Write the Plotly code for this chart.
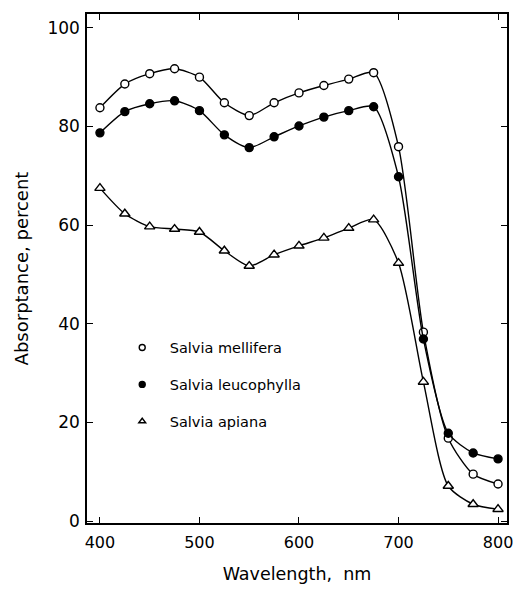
import plotly.graph_objects as go

wavelength = [400, 425, 450, 475, 500, 525, 550, 575, 600, 625, 650, 675, 700, 725, 750, 775, 800]
mellifera = [83.8, 88.6, 90.7, 91.7, 90.0, 84.8, 82.2, 84.8, 86.8, 88.3, 89.6, 90.9, 75.9, 38.3, 16.8, 9.5, 7.5]
leucophylla = [78.7, 83.0, 84.6, 85.2, 83.2, 78.3, 75.7, 77.9, 80.1, 81.9, 83.2, 84.0, 69.8, 36.9, 17.8, 13.8, 12.6]
apiana = [67.5, 62.3, 59.7, 59.2, 58.6, 54.8, 51.7, 54.0, 55.8, 57.4, 59.4, 61.1, 52.3, 28.2, 7.1, 3.4, 2.4]

series_names = ["Salvia mellifera", "Salvia leucophylla", "Salvia apiana"]
series_values = [mellifera, leucophylla, apiana]
symbols = ["circle", "circle", "triangle-up"]
fills = ["white", "black", "white"]
marker_sizes = [8, 8, 9]

x_ticks = [400, 500, 600, 700, 800]
y_ticks = [0, 20, 40, 60, 80, 100]

FONT = "'DejaVu Sans', sans-serif"

fig = go.Figure()
for i, (name, vals, sym, fc, ms) in enumerate(zip(series_names, series_values, symbols, fills, marker_sizes)):
    fig.add_trace(go.Scatter(
        x=wavelength, y=vals, mode="lines",
        line=dict(color="black", width=1.4, shape="spline", smoothing=0.7),
        showlegend=False, hoverinfo="skip"))
    fig.add_trace(go.Scatter(
        x=wavelength, y=vals, mode="markers", name=name,
        marker=dict(symbol=sym, size=ms, color=fc, line=dict(color="black", width=1.4)),
        showlegend=False))
    # legend entry (smaller symbol, as in the original key)
    fig.add_trace(go.Scatter(
        x=[None], y=[None], mode="markers", name=name, legendgroup=f"g{i}",
        marker=dict(symbol=sym, size=6, color=fc, line=dict(color="black", width=1.4)),
        showlegend=True))

fig.update_layout(
    width=514, height=593,
    margin=dict(l=87, r=7, t=14, b=70),
    paper_bgcolor="white", plot_bgcolor="white",
    font=dict(family=FONT, color="black", size=16),
    legend=dict(x=0.066, y=0.376, xanchor="left", yanchor="top",
                bgcolor="rgba(0,0,0,0)", tracegroupgap=15,
                font=dict(size=14.5, family=FONT),
                traceorder="grouped", itemwidth=45),
    xaxis=dict(range=[387, 809], tickvals=x_ticks, ticks="inside", ticklen=6,
               showline=True, linecolor="black", linewidth=1.5, mirror="ticks",
               showgrid=False, zeroline=False, tickcolor="black", automargin=False,
               tickfont=dict(size=16), ticklabelstandoff=4,
               title=dict(text="Wavelength,  nm", standoff=17, font=dict(size=17.5))),
    yaxis=dict(range=[-0.4, 102.8], tickvals=y_ticks, ticks="inside", ticklen=6,
               showline=True, linecolor="black", linewidth=1.5, mirror="ticks",
               showgrid=False, zeroline=False, tickcolor="black", automargin=False,
               tickfont=dict(size=17), ticklabelstandoff=2,
               title=dict(text="Absorptance, percent", standoff=14, font=dict(size=18))),
)

fig.write_html("out.html", config={"displayModeBar": False},
               post_script="document.body.style.margin='0';")
